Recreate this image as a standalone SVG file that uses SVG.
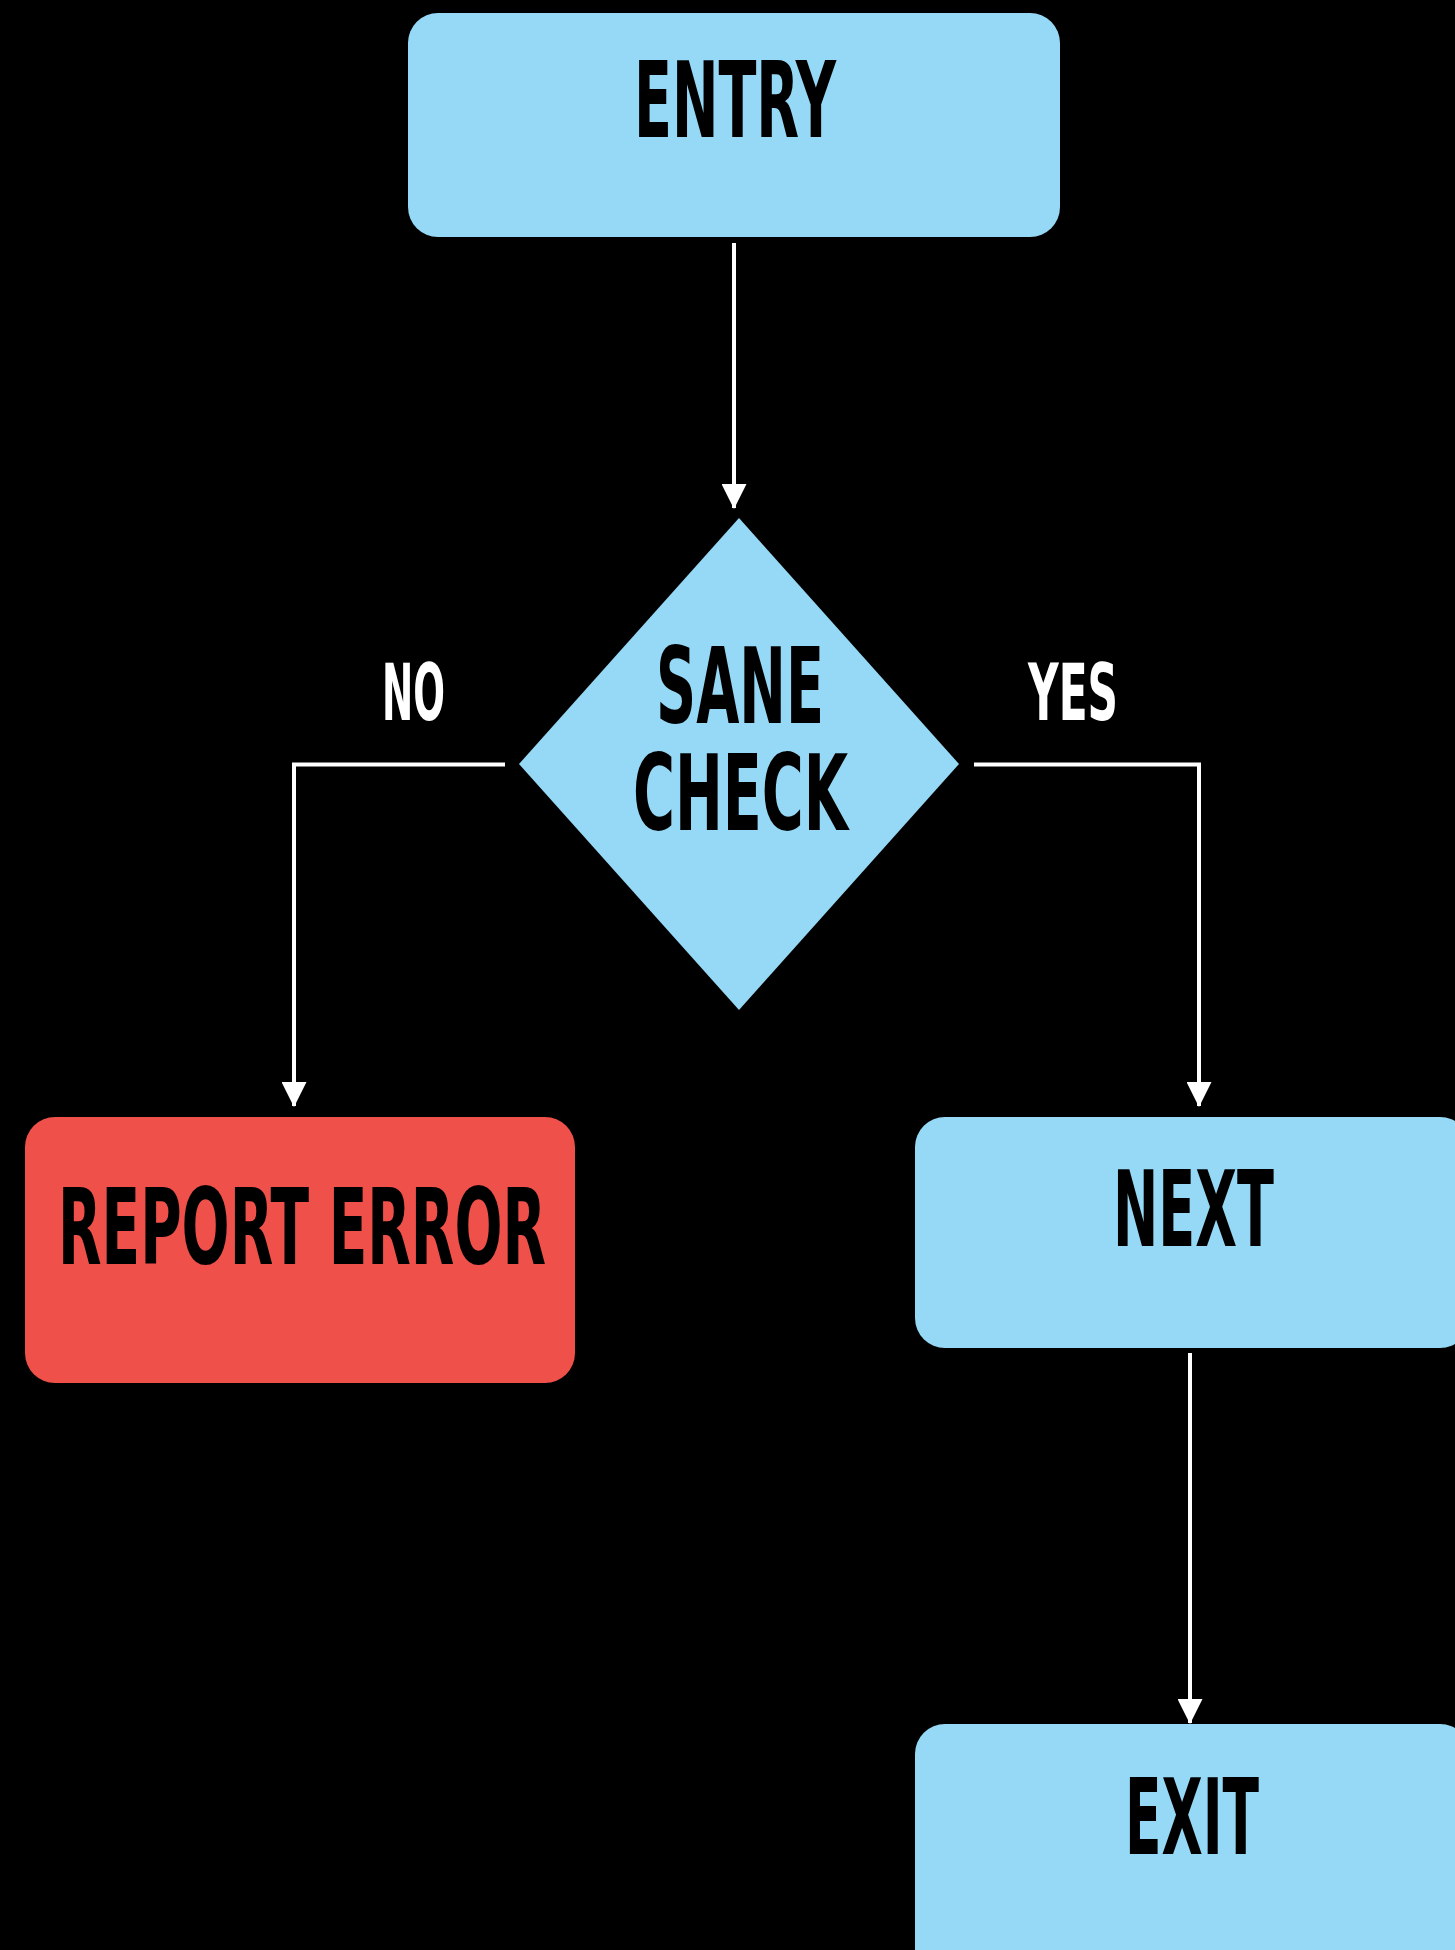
<svg xmlns="http://www.w3.org/2000/svg" width="1455" height="1950" viewBox="0 0 1455 1950">
  <style>
    .box { fill: #95d9f6; }
    .err { fill: #ef5049; }
    .lbl { font-family: "DejaVu Sans Condensed", "DejaVu Sans", "Liberation Sans", sans-serif; font-weight: bold; fill: #000; }
    .edge-lbl { font-family: "DejaVu Sans Condensed", "DejaVu Sans", "Liberation Sans", sans-serif; font-weight: bold; fill: #fff; }
    .conn { fill: none; stroke: #fff; stroke-width: 4; }
  </style>
  <defs>
    <marker id="arrow" markerUnits="userSpaceOnUse" markerWidth="25" markerHeight="25" refX="24" refY="12.5" orient="auto">
      <path d="M0,0 L25,12.5 L0,25 z" fill="#fff"/>
    </marker>
  </defs>
  <rect width="1455" height="1950" fill="#000"/>

  <g id="connectors">
    <path class="conn" d="M734,243 V508" marker-end="url(#arrow)"/>
    <path class="conn" d="M505,764.5 H294 V1106" marker-end="url(#arrow)"/>
    <path class="conn" d="M974,764.5 H1199 V1106" marker-end="url(#arrow)"/>
    <path class="conn" d="M1190,1353 V1723" marker-end="url(#arrow)"/>
  </g>

  <g id="node-entry">
    <rect class="box" x="408" y="13" width="652" height="224" rx="30" ry="30"/>
    <text class="lbl" x="634" y="137" font-size="106" textLength="202" lengthAdjust="spacingAndGlyphs">ENTRY</text>
  </g>

  <g id="node-sane-check">
    <polygon class="box" points="739,518 959,764 739,1010 519,764"/>
    <text class="lbl" x="656" y="723" font-size="106" textLength="168" lengthAdjust="spacingAndGlyphs">SANE</text>
    <text class="lbl" x="633" y="830" font-size="106" textLength="215" lengthAdjust="spacingAndGlyphs">CHECK</text>
  </g>

  <g id="label-no">
    <text class="edge-lbl" x="382" y="720" font-size="78" textLength="63" lengthAdjust="spacingAndGlyphs">NO</text>
  </g>
  <g id="label-yes">
    <text class="edge-lbl" x="1028" y="720" font-size="78" textLength="90" lengthAdjust="spacingAndGlyphs">YES</text>
  </g>

  <g id="node-report-error">
    <rect class="err" x="25" y="1117" width="550" height="266" rx="30" ry="30"/>
    <text class="lbl" x="58" y="1264" font-size="106" textLength="488" lengthAdjust="spacingAndGlyphs">REPORT ERROR</text>
  </g>

  <g id="node-next">
    <rect class="box" x="915" y="1117" width="555" height="231" rx="30" ry="30"/>
    <text class="lbl" x="1113" y="1246" font-size="106" textLength="161" lengthAdjust="spacingAndGlyphs">NEXT</text>
  </g>

  <g id="node-exit">
    <rect class="box" x="915" y="1724" width="555" height="260" rx="30" ry="30"/>
    <text class="lbl" x="1125" y="1854" font-size="106" textLength="134" lengthAdjust="spacingAndGlyphs">EXIT</text>
  </g>
</svg>
